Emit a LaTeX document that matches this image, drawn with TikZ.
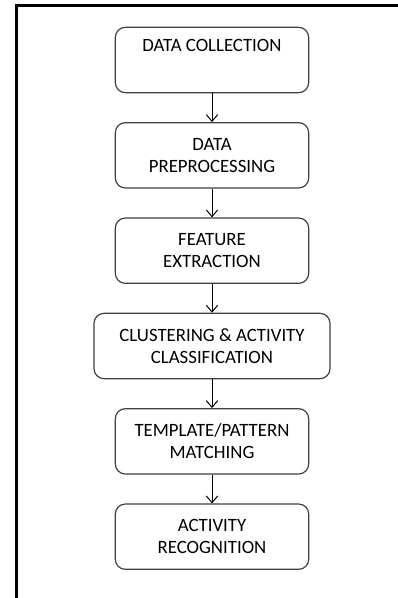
\documentclass[tikz,border=0pt]{standalone}
\usepackage{fontspec}
\setmainfont{Carlito}
\usepackage{tikz}
\usetikzlibrary{arrows.meta,positioning}

\begin{document}
\begin{tikzpicture}[
  x=0.75pt, y=-0.75pt,
  node distance=21.6pt,
  box/.style={rectangle, rounded corners=7.5pt, draw=black!75, line width=0.9pt, align=center, minimum width=145pt, minimum height=49pt, font=\fontsize{14.1}{16.5}\selectfont},
  arrow/.style={-{Straight Barb[length=5pt,width=8.5pt]}, line width=0.75pt}
]
\useasboundingbox (0,0) rectangle (398,598);
% page frame, only top and left edges show
\draw[line width=2pt] (16.5,598) -- (16.5,5.5) -- (398,5.5);

\node[box] (collect) at (212,60) {DATA COLLECTION\\ \strut};
\node[box, below=of collect] (preproc) {DATA\\PREPROCESSING};
\node[box, below=of preproc] (feature) {FEATURE\\EXTRACTION};
\node[box, below=of feature, minimum width=177pt] (cluster) {CLUSTERING \& ACTIVITY\\CLASSIFICATION};
\node[box, below=of cluster] (match) {TEMPLATE/PATTERN\\MATCHING};
\node[box, below=of match] (recog) {ACTIVITY\\RECOGNITION};

\draw[arrow] (collect) to (preproc);
\draw[arrow] (preproc) to (feature);
\draw[arrow] (feature) to (cluster);
\draw[arrow] (cluster) to (match);
\draw[arrow] (match) to (recog);
\end{tikzpicture}
\end{document}
